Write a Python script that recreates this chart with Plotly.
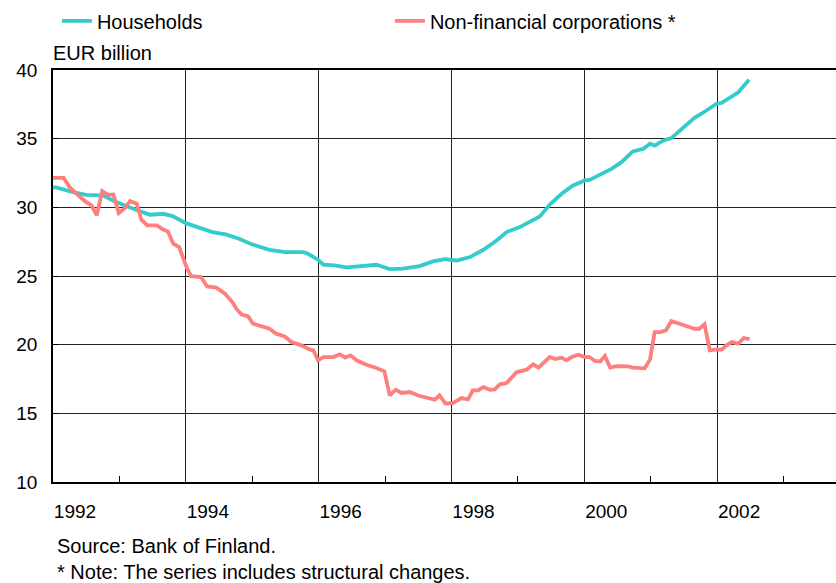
import plotly.graph_objects as go

# Households (EUR billion), time as decimal year
hh_t = [1992.0, 1992.06, 1992.3, 1992.5, 1992.75, 1992.95, 1993.15, 1993.46, 1993.66, 1993.8,
        1994.0, 1994.2, 1994.4, 1994.6, 1994.8, 1995.0, 1995.26, 1995.5, 1995.76, 1995.82,
        1995.99, 1996.07, 1996.24, 1996.42, 1996.67, 1996.87, 1997.07, 1997.27, 1997.52, 1997.72,
        1997.9, 1998.08, 1998.28, 1998.48, 1998.68, 1998.83, 1999.03, 1999.23, 1999.33, 1999.48,
        1999.66, 1999.83, 2000.01, 2000.08, 2000.23, 2000.41, 2000.56, 2000.73, 2000.89, 2000.99,
        2001.06, 2001.19, 2001.31, 2001.49, 2001.66, 2001.84, 2001.99, 2002.07, 2002.19, 2002.32,
        2002.48]
hh_v = [31.45, 31.43, 31.1, 30.9, 30.87, 30.38, 30.0, 29.46, 29.53, 29.36,
        28.85, 28.56, 28.2, 28.03, 27.71, 27.3, 26.91, 26.74, 26.74, 26.67,
        26.19, 25.82, 25.77, 25.63, 25.77, 25.82, 25.5, 25.53, 25.72, 26.06,
        26.23, 26.13, 26.38, 26.91, 27.59, 28.2, 28.56, 29.05, 29.34, 30.2,
        30.99, 31.59, 31.96, 32.0, 32.37, 32.8, 33.29, 34.07, 34.26, 34.63,
        34.5, 34.87, 35.04, 35.84, 36.52, 37.05, 37.54, 37.61, 37.98, 38.38,
        39.29]

# Non-financial corporations (EUR billion)
nfc_t = [1992.0, 1992.16, 1992.25, 1992.35, 1992.48, 1992.58, 1992.66, 1992.74, 1992.83, 1992.91,
         1992.99, 1993.08, 1993.16, 1993.26, 1993.33, 1993.42, 1993.56, 1993.66, 1993.73, 1993.81,
         1993.9, 1994.01, 1994.08, 1994.23, 1994.32, 1994.46, 1994.59, 1994.7, 1994.76, 1994.84,
         1994.94, 1995.01, 1995.16, 1995.26, 1995.36, 1995.49, 1995.59, 1995.74, 1995.87, 1995.92,
         1995.99, 1996.07, 1996.22, 1996.32, 1996.4, 1996.48, 1996.57, 1996.72, 1996.87, 1996.99,
         1997.07, 1997.16, 1997.25, 1997.37, 1997.52, 1997.65, 1997.75, 1997.82, 1997.91, 1998.02,
         1998.15, 1998.25, 1998.32, 1998.4, 1998.48, 1998.58, 1998.65, 1998.73, 1998.83, 1998.98,
         1999.13, 1999.23, 1999.31, 1999.48, 1999.56, 1999.66, 1999.73, 1999.81, 1999.91, 2000.01,
         2000.08, 2000.16, 2000.24, 2000.31, 2000.39, 2000.48, 2000.66, 2000.73, 2000.91, 2000.99,
         2001.06, 2001.14, 2001.23, 2001.31, 2001.44, 2001.56, 2001.66, 2001.73, 2001.81, 2001.89,
         2001.99, 2002.07, 2002.14, 2002.22, 2002.32, 2002.4, 2002.49]
nfc_v = [32.15, 32.15, 31.47, 30.99, 30.45, 30.14, 29.41, 31.18, 30.91, 30.94,
         29.58, 29.94, 30.45, 30.26, 29.1, 28.68, 28.68, 28.39, 28.24, 27.35,
         27.1, 25.65, 24.99, 24.92, 24.24, 24.15, 23.71, 23.1, 22.62, 22.2,
         22.06, 21.53, 21.33, 21.16, 20.8, 20.6, 20.19, 19.95, 19.64, 19.59,
         18.86, 19.1, 19.1, 19.29, 19.05, 19.22, 18.86, 18.54, 18.3, 18.06,
         16.31, 16.72, 16.48, 16.55, 16.26, 16.11, 16.0, 16.31, 15.71, 15.75,
         16.11, 16.02, 16.67, 16.67, 16.91, 16.72, 16.75, 17.11, 17.2, 18.0,
         18.18, 18.57, 18.33, 19.1, 18.95, 19.05, 18.86, 19.1, 19.27, 19.1,
         19.1, 18.81, 18.78, 19.17, 18.33, 18.44, 18.42, 18.33, 18.28, 18.93,
         20.92, 20.92, 21.04, 21.72, 21.53, 21.33, 21.16, 21.16, 21.48, 19.59,
         19.66, 19.64, 19.95, 20.19, 20.07, 20.48, 20.41]

year_ticks = [1992, 1994, 1996, 1998, 2000, 2002]
year_labels = ["1992", "1994", "1996", "1998", "2000", "2002"]
minor_ticks = [1993, 1995, 1997, 1999, 2001, 2003]
y_ticks = [10, 15, 20, 25, 30, 35, 40]

FONT = "Liberation Sans, Arial, sans-serif"

fig = go.Figure()
fig.add_trace(go.Scatter(x=hh_t, y=hh_v, mode="lines", name="Households",
                         line=dict(color="#33CCCC", width=3.8)))
fig.add_trace(go.Scatter(x=nfc_t, y=nfc_v, mode="lines", name="Non-financial corporations *",
                         line=dict(color="#FF7F7F", width=3.8)))

fig.update_layout(
    width=836, height=583,
    margin=dict(l=53, r=0, t=70, b=101),
    paper_bgcolor="white", plot_bgcolor="white",
    font=dict(family=FONT, size=19, color="black"),
    showlegend=True,
    legend=dict(orientation="h", x=0.005, xanchor="left", y=1.119, yanchor="middle",
                entrywidth=288, font=dict(size=20), bgcolor="rgba(0,0,0,0)"),
    annotations=[
        dict(text="EUR billion", xref="paper", yref="paper", x=-0.002, y=1.041,
             xanchor="left", yanchor="middle", showarrow=False, font=dict(size=20)),
        dict(text="Source: Bank of Finland.", xref="paper", yref="paper", x=0.002, y=-0.155,
             xanchor="left", yanchor="middle", showarrow=False, font=dict(size=20)),
        dict(text="* Note: The series includes structural changes.", xref="paper", yref="paper",
             x=0.002, y=-0.218, xanchor="left", yanchor="middle", showarrow=False, font=dict(size=20)),
    ],
)
fig.update_xaxes(
    range=[1992, 2003.79], tickvals=year_ticks, ticktext=year_labels,
    showgrid=True, gridcolor="#222222", gridwidth=1,
    showline=True, linecolor="black", linewidth=2, mirror=True,
    ticks="", ticklabelshift=22, ticklabelstandoff=11, zeroline=False,
    minor=dict(tickvals=minor_ticks, ticks="inside", ticklen=6, tickcolor="black", showgrid=False),
)
fig.update_yaxes(
    range=[10, 40], tickvals=y_ticks,
    showgrid=True, gridcolor="#222222", gridwidth=1,
    showline=True, linecolor="black", linewidth=1.5,
    ticks="inside", ticklen=5, tickcolor="black", ticklabelstandoff=10, zeroline=False,
)

fig.write_html("out.html", config={"displayModeBar": False},
               post_script="document.body.style.margin='0';document.body.style.overflow='hidden';")
